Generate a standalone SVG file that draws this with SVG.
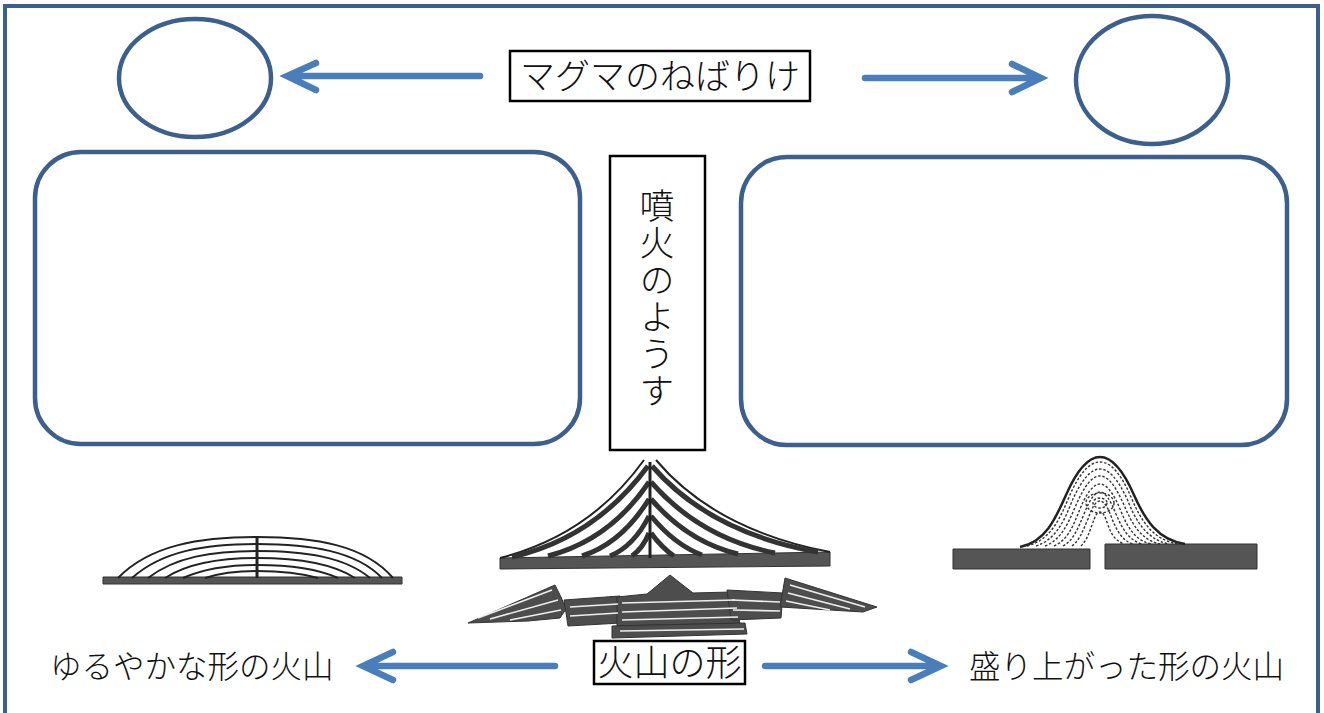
<svg xmlns="http://www.w3.org/2000/svg" width="1324" height="713" viewBox="0 0 1324 713">
<style>
.shape{fill:none;stroke:#3c5f8e;stroke-width:4.5}
.frame{fill:none;stroke:#3c5f8e;stroke-width:4}
.arrow{fill:none;stroke:#4a7ebb;stroke-width:6.5;stroke-linecap:round;stroke-linejoin:miter}
.lbl{font-family:"Noto Sans CJK JP","Noto Sans CJK SC",sans-serif;font-weight:300;fill:#111}
.box{fill:#fff;stroke:#000;stroke-width:2.5}
.ink{fill:none;stroke:#222;stroke-width:2}
.band{fill:none;stroke:#333;stroke-width:5}
.rock{fill:#4d4d4d;stroke:#333;stroke-width:1}
.streak{fill:none;stroke:#eee;stroke-width:1.6}
.dash{fill:none;stroke:#333;stroke-width:1.4;stroke-dasharray:2.5 1.8}
</style>
<rect width="1324" height="713" fill="#fff"/>
<path class="frame" d="M5 740 V6 H1318 V740"/>

<g id="circle-left"><ellipse class="shape" cx="195" cy="78" rx="76" ry="59"/></g>
<g id="circle-right"><ellipse class="shape" cx="1152" cy="80" rx="76" ry="64"/></g>
<g id="box-left"><rect class="shape" x="35" y="152" width="545" height="292" rx="46"/></g>
<g id="box-right"><rect class="shape" x="741" y="157" width="546" height="288" rx="46"/></g>

<g id="magma">
<rect class="box" x="510" y="51" width="300" height="50"/>
<text class="lbl" x="660" y="89" font-size="35" text-anchor="middle">マグマのねばりけ</text>
</g>

<g id="eruption">
<rect class="box" x="610" y="156" width="95" height="294"/>
<text class="lbl" x="657" y="188" font-size="35" writing-mode="vertical-rl" letter-spacing="2">噴火のようす</text>
</g>

<g id="shape-label">
<rect class="box" x="594" y="641" width="151" height="43"/>
<text class="lbl" x="669.5" y="676" font-size="36" text-anchor="middle">火山の形</text>
</g>
<g id="gentle-label"><text class="lbl" x="50" y="678" font-size="31.5">ゆるやかな形の火山</text></g>
<g id="raised-label"><text class="lbl" x="969" y="678" font-size="31.5">盛り上がった形の火山</text></g>

<g id="connectors">
<path class="arrow" d="M480 76 H288 M316 63 L287 76 L316 90"/>
<path class="arrow" d="M865 78 H1040 M1012 64 L1041 78 L1012 92"/>
<path class="arrow" d="M555 666 H364 M393 652 L363 666 L393 680"/>
<path class="arrow" d="M765 666 H940 M911 652 L941 666 L911 680"/>
</g>

<g id="shield-volcano">
<path d="M103 577 H402 V584 H103 Z" fill="#555" stroke="#333" stroke-width="1"/>
<path class="ink" d="M118 578 C150 545 200 537 257 537 C315 537 365 545 393 578"/>
<path class="ink" d="M132 578 C162 551 205 544 257 544 C310 544 356 551 382 578"/>
<path class="ink" d="M148 578 C175 557 212 551 257 551 C305 551 345 557 370 578"/>
<path class="ink" d="M165 578 C188 563 220 558 257 558 C298 558 332 563 355 578"/>
<path class="ink" d="M183 578 C203 569 228 565 257 565 C290 565 318 569 338 578"/>
<path class="ink" d="M205 578 C220 573 238 571 257 571 C280 571 300 573 318 578"/>
<path d="M257 537 V578" stroke="#222" stroke-width="3"/>
</g>

<g id="strato-volcano">
<path d="M500 558 L830 552 L830 566 L500 569 Z" fill="#555" stroke="#333" stroke-width="1"/>
<path class="ink" d="M644 460 Q590 535 500 558"/>
<path class="ink" d="M656 460 Q715 530 830 552"/>
<path class="band" d="M648 466 Q595 538 512 557"/>
<path class="band" d="M649 482 Q610 540 548 556"/>
<path class="band" d="M649 499 Q622 543 582 556"/>
<path class="band" d="M649 516 Q634 546 610 556"/>
<path class="band" d="M649 533 Q643 548 632 556"/>
<path class="band" d="M652 466 Q710 533 818 552"/>
<path class="band" d="M651 482 Q700 538 775 553"/>
<path class="band" d="M651 499 Q688 542 738 554"/>
<path class="band" d="M651 516 Q675 545 702 555"/>
<path class="band" d="M651 533 Q662 548 674 556"/>
<path d="M650 462 V558" stroke="#222" stroke-width="3"/>
</g>

<g id="caldera">
<path class="rock" d="M468 623 L555 585 L561 597 L566 609 L560 618 L528 621 Z"/>
<path class="rock" d="M564 600 L620 596 L621 623 L568 626 Z"/>
<path class="rock" d="M617 597 L647 594 L670 575 L693 593 L731 592 L740 623 L617 626 Z"/>
<path class="rock" d="M612 626 L745 623 L747 634 L612 638 Z"/>
<path class="rock" d="M727 590 L783 593 L781 618 L731 620 Z"/>
<path class="rock" d="M785 578 L877 607 L863 612 L780 607 Z"/>
<path class="streak" d="M478 618 L552 590 M490 619 L558 600 M510 620 L561 610"/>
<path class="streak" d="M570 607 L618 604 M570 616 L618 613"/>
<path class="streak" d="M622 603 L735 600 M622 612 L737 608 M622 620 L738 617"/>
<path class="streak" d="M620 631 L744 629"/>
<path class="streak" d="M732 600 L780 602 M733 610 L780 611"/>
<path class="streak" d="M790 585 L865 607 M788 593 L850 609 M786 601 L830 610"/>
</g>

<g id="lava-dome">
<path d="M953 549 H1090 V569 H953 Z M1105 544 H1257 V569 H1105 Z" fill="#555" stroke="#333" stroke-width="1"/>
<path d="M1020 547 C1045 542 1055 520 1066 495 C1077 470 1088 457 1100 457 C1112 457 1123 470 1134 495 C1145 520 1158 540 1185 544" fill="none" stroke="#222" stroke-width="2.5"/>
<path class="dash" d="M1027 546 C1050 540 1059 521 1069 497 C1079 474 1089 462 1100 462 C1111 462 1121 474 1131 497 C1141 521 1153 540 1178 544"/>
<path class="dash" d="M1036 546 C1055 540 1064 522 1072 501 C1082 479 1091 469 1100 469 C1109 469 1118 479 1128 501 C1136 522 1148 540 1169 544"/>
<path class="dash" d="M1045 546 C1061 540 1068 524 1076 505 C1085 485 1092 476 1100 476 C1108 476 1115 485 1124 505 C1132 524 1141 540 1160 544"/>
<path class="dash" d="M1054 546 C1068 540 1073 526 1080 509 C1087 492 1094 484 1100 484 C1106 484 1113 492 1120 509 C1127 526 1134 540 1151 544"/>
<path class="dash" d="M1063 546 C1074 540 1078 528 1084 514 C1090 499 1095 492 1100 492 C1105 492 1110 499 1116 514 C1122 528 1128 540 1142 544"/>
<path class="dash" d="M1072 546 C1080 540 1083 530 1088 519 C1092 507 1096 501 1100 501 C1104 501 1108 507 1112 519 C1117 530 1121 540 1133 544"/>
<path class="dash" d="M1081 546 C1087 540 1089 533 1092 525 C1095 516 1097 512 1100 512 C1103 512 1105 516 1108 525 C1111 533 1114 540 1124 544"/>
<ellipse class="dash" cx="1100" cy="503" rx="14" ry="10"/>
<ellipse class="dash" cx="1100" cy="503" rx="7" ry="5"/>
<path d="M1092 550 Q1092 543 1097.5 543 Q1103 543 1103 550 V569 H1092 Z" fill="#fff"/>
</g>
</svg>
